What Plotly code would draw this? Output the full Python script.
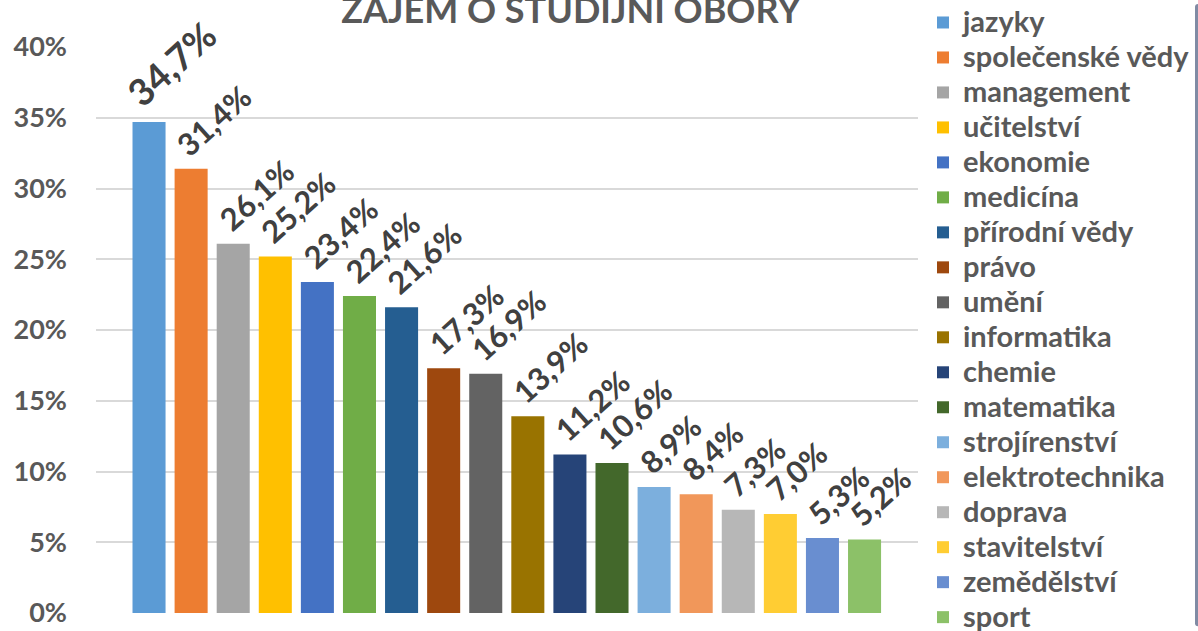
import plotly.graph_objects as go

categories = ["jazyky", "společenské vědy", "management", "učitelství", "ekonomie",
              "medicína", "přírodní vědy", "právo", "umění", "informatika", "chemie",
              "matematika", "strojírenství", "elektrotechnika", "doprava", "stavitelství",
              "zemědělství", "sport"]
values = [34.7, 31.4, 26.1, 25.2, 23.4, 22.4, 21.6, 17.3, 16.9, 13.9, 11.2, 10.6,
          8.9, 8.4, 7.3, 7.0, 5.3, 5.2]
colors = ["#5B9BD5", "#ED7D31", "#A5A5A5", "#FFC000", "#4472C4", "#70AD47", "#255E91",
          "#9E480E", "#636363", "#997300", "#264478", "#43682B", "#7CAFDD", "#F1975A",
          "#B7B7B7", "#FFCD33", "#698ED0", "#8CC168"]
tick_vals = [0, 5, 10, 15, 20, 25, 30, 35, 40]
tick_text = ["0%", "5%", "10%", "15%", "20%", "25%", "30%", "35%", "40%"]
title_text = "ZÁJEM O STUDIJNÍ OBORY"

FONT = "Lato"
GRAY = "#595959"
LABEL = "#404040"

fig = go.Figure()
for i, (c, v, col) in enumerate(zip(categories, values, colors)):
    fig.add_trace(go.Bar(
        x=[i], y=[v], name=f"<span style='font-size:29px'>{c}</span>",
        marker=dict(color=col, line=dict(width=0)),
        width=0.785, showlegend=True, hoverinfo="skip",
    ))
    big = (i == 0)
    fig.add_annotation(
        x=i, y=v, xref="x", yref="y",
        text=f"{v:.1f}%".replace(".", ","),
        textangle=-42, showarrow=False,
        xanchor="left", yanchor="bottom",
        xshift=-34 if big else -25, yshift=4 if big else 3,
        font=dict(family=FONT, size=37 if big else 31, color=LABEL, weight="bold"),
    )

fig.update_layout(
    width=1198, height=631,
    paper_bgcolor="white", plot_bgcolor="white",
    margin=dict(l=96, r=280, t=47, b=18, autoexpand=False),
    barmode="overlay",
    title=dict(text=f"<b>{title_text}</b>", x=571 / 1198, xanchor="center",
               y=1 - 10 / 631, yanchor="middle", yref="container",
               font=dict(family=FONT, size=36, color=GRAY)),
    xaxis=dict(range=[-1.26, 18.27], showticklabels=False, showgrid=False,
               zeroline=False, showline=False, ticks=""),
    yaxis=dict(range=[0, 40], tickvals=tick_vals, ticktext=tick_text,
               showgrid=True, gridcolor="#D9D9D9", gridwidth=2,
               zeroline=False, showline=False, ticks="",
               ticklabelstandoff=28,
               tickfont=dict(family=FONT, size=27, color=GRAY, weight="bold")),
    legend=dict(x=923 / 1198, xanchor="left", xref="container",
                y=1, yanchor="top", yref="container",
                traceorder="normal", maxheight=1.0,
                font=dict(family=FONT, size=24.6, color=GRAY, weight="bold"),
                tracegroupgap=0, bgcolor="rgba(0,0,0,0)"),
    showlegend=True,
)

fig.write_html("out.html", config={"displayModeBar": False},
               post_script="document.body.style.margin='0';")
